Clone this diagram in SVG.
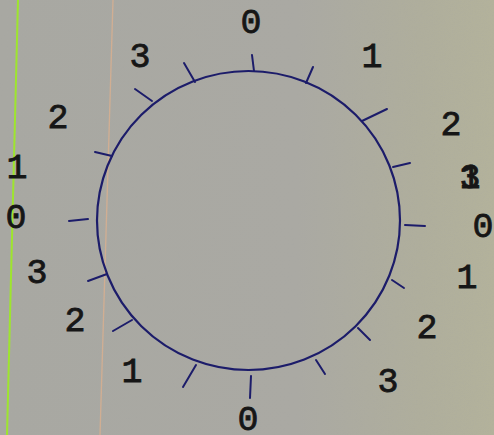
<svg xmlns="http://www.w3.org/2000/svg" width="494" height="435" viewBox="0 0 494 435">
  <defs>
    <linearGradient id="paper" x1="0" y1="0" x2="1" y2="0">
      <stop offset="0" stop-color="#a8a8a2"/>
      <stop offset="0.6" stop-color="#aaa9a3"/>
      <stop offset="0.85" stop-color="#afae9c"/>
      <stop offset="1" stop-color="#b3b29b"/>
    </linearGradient>
    <filter id="grain" x="0" y="0" width="100%" height="100%">
      <feTurbulence type="fractalNoise" baseFrequency="0.9" numOctaves="2" seed="3" result="n"/>
      <feColorMatrix type="matrix" values="0 0 0 0 0.4  0 0 0 0 0.4  0 0 0 0 0.38  0 0 0 -1.2 0.7"/>
    </filter>
    <style>
      .tick { stroke: #1c1c6a; stroke-width: 2; stroke-linecap: round; fill: none; }
      .ring { stroke: #1c1c6a; stroke-width: 2.2; fill: none; }
      .num { font-family: "Liberation Mono", "Courier New", monospace; font-size: 35px; fill: #161616; stroke: #161616; stroke-width: 0.8; text-anchor: middle; }
    </style>
  </defs>

  <rect width="494" height="435" fill="url(#paper)"/>
  <rect width="494" height="435" filter="url(#grain)" opacity="0.35"/>
  <line x1="18" y1="0" x2="7" y2="435" stroke="#9ee52e" stroke-width="2"/>
  <line x1="113" y1="0" x2="100" y2="435" stroke="#dcb08f" stroke-width="1.3" opacity="0.8"/>

  <g id="circle">
    <ellipse class="ring" cx="248.5" cy="220.5" rx="151.5" ry="149.5"/>
  </g>

  <g id="connectors">
    <line class="tick" x1="252" y1="55" x2="254" y2="71"/>
    <line class="tick" x1="313" y1="67" x2="306" y2="83"/>
    <line class="tick" x1="387" y1="109" x2="362" y2="121"/>
    <line class="tick" x1="410" y1="163" x2="393" y2="167"/>
    <line class="tick" x1="405" y1="225" x2="425" y2="226"/>
    <line class="tick" x1="392" y1="280" x2="404" y2="288"/>
    <line class="tick" x1="358" y1="328" x2="370" y2="340"/>
    <line class="tick" x1="316" y1="360" x2="325" y2="374"/>
    <line class="tick" x1="251" y1="376" x2="250" y2="398"/>
    <line class="tick" x1="196" y1="365" x2="183" y2="387"/>
    <line class="tick" x1="132" y1="320" x2="113" y2="331"/>
    <line class="tick" x1="107" y1="274" x2="88" y2="281"/>
    <line class="tick" x1="88" y1="219" x2="69" y2="221"/>
    <line class="tick" x1="112" y1="156" x2="95" y2="152"/>
    <line class="tick" x1="152" y1="101" x2="135" y2="89"/>
    <line class="tick" x1="195" y1="82" x2="184" y2="63"/>
  </g>

  <g id="label-top-0"><text class="num" x="251" y="33">0</text></g>
  <g id="label-a1"><text class="num" x="372" y="67">1</text></g>
  <g id="label-a2"><text class="num" x="451" y="135">2</text></g>
  <g id="label-a3"><text class="num" x="470" y="188">3</text><text class="num" x="470" y="188">1</text></g>
  <g id="label-right-0"><text class="num" x="483" y="237">0</text></g>
  <g id="label-b1"><text class="num" x="467" y="288">1</text></g>
  <g id="label-b2"><text class="num" x="427" y="338">2</text></g>
  <g id="label-b3"><text class="num" x="388" y="392">3</text></g>
  <g id="label-bottom-0"><text class="num" x="248" y="430">0</text></g>
  <g id="label-c1"><text class="num" x="132" y="382">1</text></g>
  <g id="label-c2"><text class="num" x="75" y="331">2</text></g>
  <g id="label-c3"><text class="num" x="37" y="283">3</text></g>
  <g id="label-left-0"><text class="num" x="16" y="228">0</text></g>
  <g id="label-d1"><text class="num" x="17" y="178">1</text></g>
  <g id="label-d2"><text class="num" x="58" y="128">2</text></g>
  <g id="label-d3"><text class="num" x="140" y="67">3</text></g>
</svg>
